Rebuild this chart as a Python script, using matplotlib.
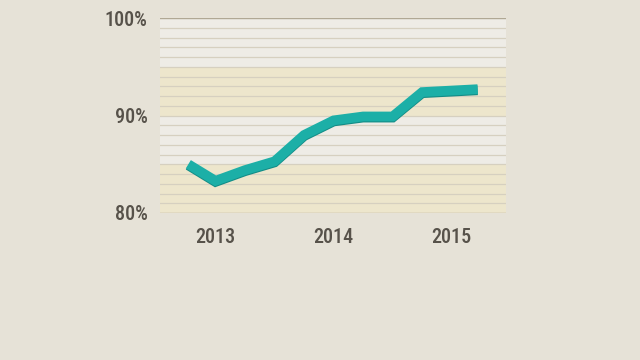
import matplotlib
matplotlib.use("Agg")
import matplotlib.pyplot as plt
from matplotlib import font_manager
import matplotlib.patheffects as pe

years = [2012.77, 2013.0, 2013.25, 2013.5, 2013.75, 2014.0, 2014.25, 2014.5, 2014.75, 2015.22]
values = [85.0, 83.3, 84.4, 85.3, 88.0, 89.5, 89.9, 89.9, 92.4, 92.7]
xticks = [2013, 2014, 2015]
xtick_labels = ["2013", "2014", "2015"]
yticks = [80, 90, 100]
ytick_labels = ["80%", "90%", "100%"]

names = {f.name for f in font_manager.fontManager.ttflist}
fam, stretch = "DejaVu Sans", "condensed"
for cand in ["Roboto Condensed", "Liberation Sans Narrow", "Open Sans Condensed", "Noto Sans Condensed"]:
    if cand in names:
        fam, stretch = cand, "normal"
        break

bg = "#e6e2d7"
fig = plt.figure(figsize=(6.4, 3.6), dpi=100, facecolor=bg)
ax = fig.add_axes([160/640, 1-213/360, 346/640, 195/360])
ax.set_facecolor(bg)
ax.set_xlim(2012.53, 2015.46)
ax.set_ylim(80, 100)

# bands
ax.axhspan(95, 100, color="#eeece6", zorder=0, lw=0)
ax.axhspan(90, 95, color="#ede6cc", zorder=0, lw=0)
ax.axhspan(85, 90, color="#eeece6", zorder=0, lw=0)
ax.axhspan(80, 85, color="#ede6cc", zorder=0, lw=0)
for v in range(81, 100):
    ax.axhline(v, color="#d6d0c0", lw=0.9, zorder=1)
for v in (80, 100):
    ax.axhline(v, color="#b0a894", lw=1.0, zorder=1)

ax.plot(years, values, color="#1cafa7", lw=7.0, solid_capstyle="butt",
        solid_joinstyle="miter", zorder=3,
        path_effects=[pe.SimpleLineShadow(offset=(0, -0.8), shadow_color="#138c86", alpha=1.0),
                      pe.Normal()])

for s in ax.spines.values():
    s.set_visible(False)
ax.set_xticks(xticks)
ax.set_xticklabels(xtick_labels)
ax.set_yticks(yticks)
ax.set_yticklabels(ytick_labels)
ax.tick_params(length=0, colors="#5a554c", labelsize=14.5, pad=11)
ax.tick_params(axis="y", pad=9)
for lab in ax.get_xticklabels() + ax.get_yticklabels():
    lab.set_fontfamily(fam)
    lab.set_fontstretch(stretch)
    lab.set_fontweight("medium")
    lab.set_color("#57524a")

fig.savefig("out.png", dpi=100, facecolor=bg)
